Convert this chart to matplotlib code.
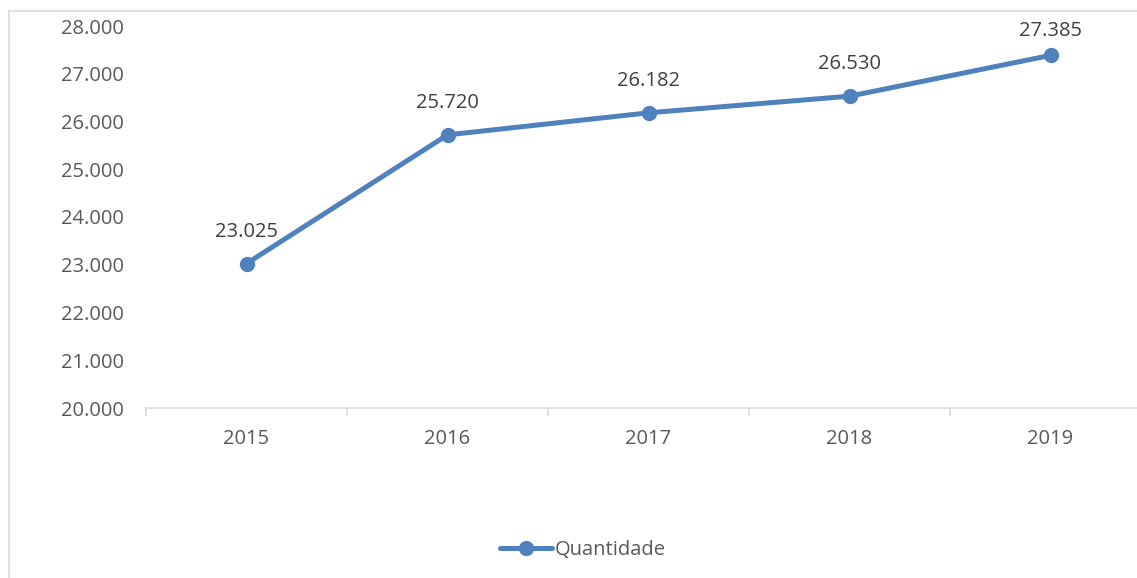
import matplotlib.pyplot as plt
from matplotlib.lines import Line2D

# data
anos = ['2015', '2016', '2017', '2018', '2019']
quantidade = [23025, 25720, 26182, 26530, 27385]
yticks = [20000, 21000, 22000, 23000, 24000, 25000, 26000, 27000, 28000]

azul = '#4F81BD'
cinza_txt = '#595959'
cinza_linha = '#D9D9D9'
fs = 14.5

plt.rcParams['font.family'] = ['Open Sans', 'DejaVu Sans']

fig = plt.figure(figsize=(11.37, 5.78), dpi=100)
# plot area runs a bit past the right edge, like the cropped original
ax = fig.add_axes([146 / 1137, 1 - 408 / 578, 1005 / 1137, 382 / 578])

x = list(range(len(anos)))
ax.plot(x, quantidade, color=azul, lw=3.6, marker='o', ms=10,
        solid_capstyle='round', label='Quantidade', clip_on=False)

ax.set_xlim(-0.5, len(anos) - 0.5)
ax.set_ylim(20000, 28000)

def fmt(v):
    return f'{v:,}'.replace(',', '.')

# labels sit ~32px above the point, but are kept inside the chart area (like excel does)
topo = 578 - 31
for xi, v in zip(x, quantidade):
    py = ax.transData.transform((xi, v))[1]
    off = min(32, topo - py) * 72 / fig.dpi
    ax.annotate(fmt(v), (xi, v), xytext=(0, off), textcoords='offset points',
                ha='center', va='center', fontsize=fs, color='#404040')

ax.set_yticks(yticks)
ax.set_yticklabels([fmt(v) for v in yticks])
ax.set_xticks(x)
ax.set_xticklabels(anos)

ax.set_xticks([i - 0.5 for i in range(len(anos) + 1)], minor=True)
ax.tick_params(axis='x', which='major', length=0, pad=15, labelsize=fs, labelcolor=cinza_txt)
ax.tick_params(axis='x', which='minor', length=6, width=1.2, color=cinza_linha, direction='out')
ax.tick_params(axis='y', length=0, pad=16, labelsize=fs, labelcolor=cinza_txt)

for s in ['top', 'right', 'left']:
    ax.spines[s].set_visible(False)
ax.spines['bottom'].set_color(cinza_linha)
ax.spines['bottom'].set_linewidth(1.2)

# legend at the bottom
h = Line2D([], [], color=azul, lw=3.6, marker='o', ms=10, solid_capstyle='round')
fig.legend([h], ['Quantidade'], loc='center', bbox_to_anchor=(583 / 1137, 1 - 550 / 578),
           frameon=False, fontsize=fs, labelcolor=cinza_txt, handlelength=2.6,
           handletextpad=0.15)

# chart frame (left and top edges visible)
fig.add_artist(Line2D([9 / 1137, 9 / 1137], [0, 1 - 11 / 578], color=cinza_linha, lw=1.2,
                      transform=fig.transFigure))
fig.add_artist(Line2D([9 / 1137, 1], [1 - 11 / 578, 1 - 11 / 578], color=cinza_linha, lw=1.2,
                      transform=fig.transFigure))

fig.savefig('out.png', dpi=100)
